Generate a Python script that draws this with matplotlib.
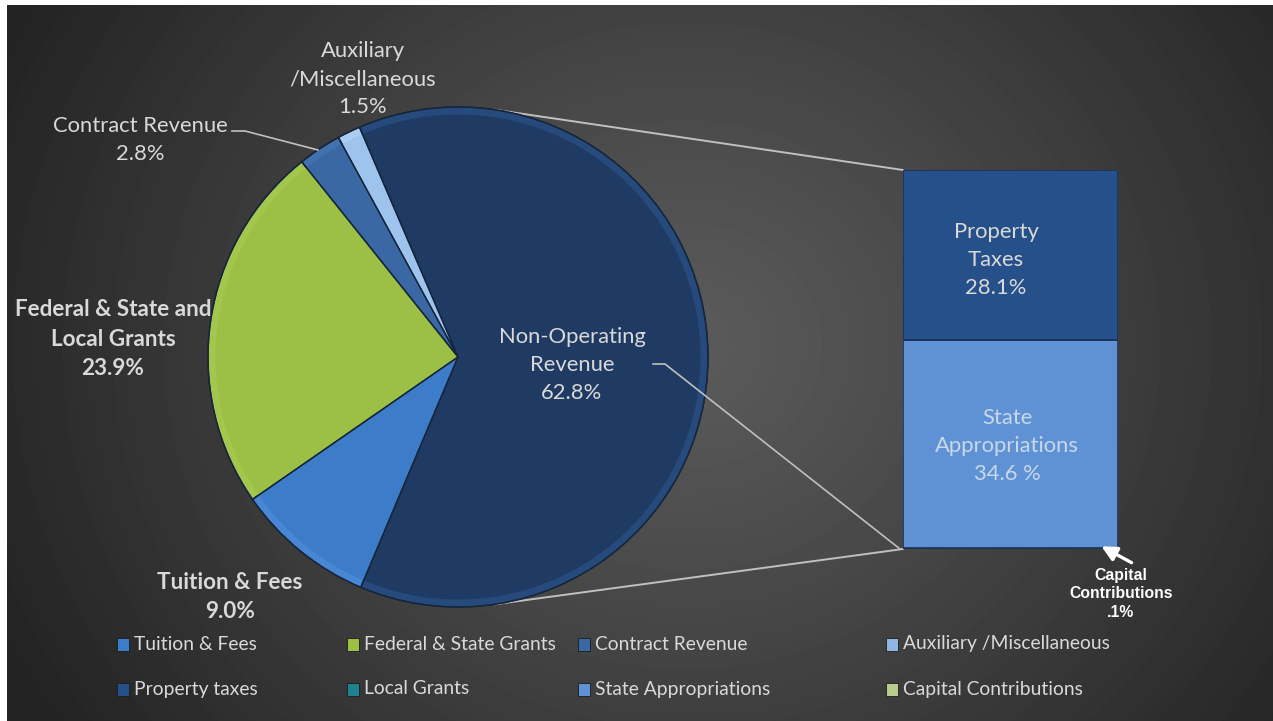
import numpy as np
import matplotlib
matplotlib.use("Agg")
import matplotlib.pyplot as plt
from matplotlib.patches import Rectangle, ConnectionPatch

# pie data (percent of total revenue)
pie_labels = ["Non-Operating Revenue", "Auxiliary /Miscellaneous", "Contract Revenue",
              "Federal & State and Local Grants", "Tuition & Fees"]
pie_values = [62.8, 1.5, 2.8, 23.9, 9.0]
pie_colors = ["#1f3b64", "#9ec4ee", "#3a68a4", "#9cbf45", "#3d7cc9"]
rim_colors = ["#264a7b", "#acccf1", "#4271ad", "#a3c64d", "#4787d3"]

# breakdown of non-operating revenue, bottom to top
bar_labels = ["Capital Contributions", "State Appropriations", "Property Taxes"]
bar_values = [0.1, 34.6, 28.1]
bar_colors = ["#6f7f6c", "#5f92d4", "#25508a"]

legend_labels = ["Tuition & Fees", "Federal & State Grants", "Contract Revenue", "Auxiliary /Miscellaneous",
                 "Property taxes", "Local Grants", "State Appropriations", "Capital Contributions"]
legend_colors = ["#3d7cc9", "#9cbf45", "#3a68a4", "#8fb7e4",
                 "#25508a", "#1f8090", "#5f92d4", "#b8cc8e"]

W, H = 1273, 721
fig = plt.figure(figsize=(W / 100, H / 100), dpi=100, facecolor="white")

def px_axes(x0, y0, x1, y1):
    # axes from pixel box (y measured from top)
    return fig.add_axes([x0 / W, 1 - y1 / H, (x1 - x0) / W, (y1 - y0) / H])

# background gradient
bg = px_axes(7, 5, W, H)
yy, xx = np.mgrid[0:H - 5, 0:W - 7]
d = np.hypot(xx - 680, (yy - 340) * 1.1) / 760
shade = 0x5b - (0x5b - 0x23) * np.clip(d, 0, 1) ** 1.1
bg.imshow(shade, cmap="gray", vmin=0, vmax=255, aspect="auto", interpolation="bilinear")
bg.axis("off")
bg.set_zorder(0)

# pie
cx, cy, r = 458, 357, 255
ax_pie = px_axes(cx - r, cy - r, cx + r, cy + r)
start = 113.2 - pie_values[0] / 100 * 360
ax_pie.pie(pie_values, colors=rim_colors, startangle=start, counterclock=True, radius=1,
           wedgeprops=dict(edgecolor="#16263d", linewidth=1.0))
ax_pie.pie(pie_values, colors=pie_colors, startangle=start, counterclock=True, radius=0.97,
           wedgeprops=dict(edgecolor="none", linewidth=0))
ax_pie.pie(pie_values, colors=["none"] * 5, startangle=start, counterclock=True, radius=1,
           wedgeprops=dict(edgecolor="#16263d", linewidth=1.0, fill=False))
ax_pie.set_xlim(-1.02, 1.02)
ax_pie.set_ylim(-1.02, 1.02)
ax_pie.set_zorder(2)

# stacked bar
ax_bar = px_axes(903, 170, 1118, 549)
bottom = 0
for v, c in zip(bar_values, bar_colors):
    ax_bar.bar([0], [v], bottom=bottom, width=1.0, color=c, edgecolor="#1a3358", linewidth=1.2)
    bottom += v
ax_bar.set_xlim(-0.5, 0.5)
ax_bar.set_ylim(0, sum(bar_values))
ax_bar.axis("off")
ax_bar.set_zorder(2)

# series lines from pie to bar
line_c = "#c0c0c0"
for ang, yb in [(81.5, sum(bar_values)), (-81.5, 0)]:
    a = np.deg2rad(ang)
    con = ConnectionPatch(xyA=(np.cos(a), np.sin(a)), coordsA=ax_pie.transData,
                          xyB=(-0.5, yb), coordsB=ax_bar.transData, color=line_c, lw=1.4)
    fig.add_artist(con)

# overlay for labels
ov = px_axes(0, 0, W, H)
ov.set_xlim(0, W)
ov.set_ylim(H, 0)
ov.axis("off")
ov.set_zorder(3)

fam = "Lato"
txt_c = "#d9d9d9"
fs = 15.8
ls = 1.5
ov.text(363, 79, "Auxiliary\n/Miscellaneous\n1.5%", ha="center", va="center", color=txt_c,
        fontsize=fs, family=fam, linespacing=ls)
ov.text(140, 140, "Contract Revenue\n2.8%", ha="center", va="center", color=txt_c,
        fontsize=fs, family=fam, linespacing=ls)
ov.text(113, 339, "Federal & State and\nLocal Grants\n23.9%", ha="center", va="center", color=txt_c,
        fontsize=16.2, family=fam, fontweight="bold", linespacing=ls)
ov.text(230, 597, "Tuition & Fees\n9.0%", ha="center", va="center", color=txt_c,
        fontsize=16.2, family=fam, fontweight="bold", linespacing=ls)
ov.text(572, 365, "Non-Operating\nRevenue\n62.8%", ha="center", va="center", color=txt_c,
        fontsize=fs, family=fam, linespacing=ls)
ov.text(996, 260, "Property\nTaxes\n28.1%", ha="center", va="center", color=txt_c,
        fontsize=fs, family=fam, linespacing=ls)
ov.text(1007, 446, "State\nAppropriations\n34.6 %", ha="center", va="center", color="#c9d7ea",
        fontsize=fs, family=fam, linespacing=ls)
ov.text(1121, 594, "Capital\nContributions\n.1%", ha="center", va="center", color="white",
        fontsize=11.3, family="Liberation Sans", fontweight="bold", linespacing=1.3)
ov.annotate("", xy=(1099, 545), xytext=(1134, 564),
            arrowprops=dict(arrowstyle="-|>,head_length=0.9,head_width=0.45", color="white", lw=2.4))

# leader lines
ov.plot([653, 665, 900], [364, 364, 549], color=line_c, lw=1.2)
ov.plot([232, 245, 318], [131, 131, 150], color=line_c, lw=1.2)

# legend
col_x = [117, 347, 578, 886]
row_y = [644, 689]
for i, (lab, c) in enumerate(zip(legend_labels, legend_colors)):
    x = col_x[i % 4]
    y = row_y[i // 4]
    ov.add_patch(Rectangle((x, y - 6.5), 12, 13, facecolor=c, edgecolor="#1c1c1c", lw=0.6))
    ov.text(x + 17, y, lab, ha="left", va="center", color=txt_c, fontsize=13.9, family=fam)

fig.savefig("out.png", dpi=100, facecolor="white")
